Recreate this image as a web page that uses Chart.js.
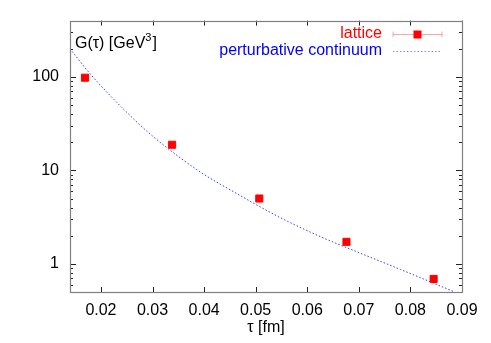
<!DOCTYPE html>
<html>
<head>
<meta charset="utf-8">
<script src="https://cdn.jsdelivr.net/npm/chart.js@4/dist/chart.umd.min.js"></script>
<style>
  html, body { margin: 0; padding: 0; background: #fff; }
  #wrap { width: 491px; height: 343px; }
</style>
</head>
<body>
<div id="wrap"><canvas id="chart"></canvas></div>
<script>
// lattice points (tau in fm, G in GeV^3)
var tauLattice = [0.0169, 0.0338, 0.0507, 0.0676, 0.0845];
var gLattice = [98, 18.8, 5.0, 1.72, 0.69];

// perturbative continuum curve
var tauPert = [0.0140, 0.0179, 0.0239, 0.0298, 0.0392, 0.0457, 0.0544, 0.0625, 0.0703, 0.0781, 0.0886];
var gPert = [200, 108, 48, 23.8, 9.66, 5.91, 3.20, 1.96, 1.30, 0.87, 0.50];

var xTicks = [0.02, 0.03, 0.04, 0.05, 0.06, 0.07, 0.08, 0.09];
var yMajor = [1, 10, 100];
var yMinor = [0.6, 0.7, 0.8, 0.9, 2, 3, 4, 5, 6, 7, 8, 9, 20, 30, 40, 50, 60, 70, 80, 90, 200, 300];

var FONT = 'Liberation Sans, Arial, Helvetica, sans-serif';

function toPoints(xs, ys) {
    return xs.map(function (x, i) { return {x: x, y: ys[i]}; });
}

// frame, inward ticks, y label and legend like the gnuplot original
var decorPlugin = {
    id: 'decor',
    afterDraw: function (chart) {
        var ctx = chart.ctx;
        var a = chart.chartArea;
        var xs = chart.scales.x, ys = chart.scales.y;
        ctx.save();

        // ticks
        ctx.strokeStyle = '#222';
        ctx.lineWidth = 1;
        ctx.beginPath();
        xTicks.forEach(function (v) {
            var px = Math.round(xs.getPixelForValue(v)) + 0.5;
            ctx.moveTo(px, a.bottom); ctx.lineTo(px, a.bottom - 5);
            ctx.moveTo(px, a.top); ctx.lineTo(px, a.top + 5);
        });
        yMajor.forEach(function (v) {
            var py = Math.round(ys.getPixelForValue(v)) + 0.5;
            ctx.moveTo(a.left, py); ctx.lineTo(a.left + 6, py);
            ctx.moveTo(a.right, py); ctx.lineTo(a.right - 6, py);
        });
        yMinor.forEach(function (v) {
            var py = Math.round(ys.getPixelForValue(v)) + 0.5;
            ctx.moveTo(a.left, py); ctx.lineTo(a.left + 3, py);
            ctx.moveTo(a.right, py); ctx.lineTo(a.right - 3, py);
        });
        ctx.stroke();

        // frame
        ctx.strokeStyle = '#808080';
        ctx.lineWidth = 1.2;
        ctx.strokeRect(Math.round(a.left) + 0.5, Math.round(a.top) + 0.5,
            Math.round(a.right - a.left), Math.round(a.bottom - a.top));

        // y label G(tau) [GeV^3]
        ctx.fillStyle = '#000';
        ctx.font = '16px ' + FONT;
        ctx.textBaseline = 'alphabetic';
        ctx.textAlign = 'left';
        var lx = a.left + 5, ly = a.top + 27;
        var s1 = 'G(\u03c4) [GeV';
        ctx.fillText(s1, lx, ly);
        var w1 = ctx.measureText(s1).width;
        ctx.font = '11px ' + FONT;
        ctx.fillText('3', lx + w1, ly - 7);
        var w2 = ctx.measureText('3').width;
        ctx.font = '16px ' + FONT;
        ctx.fillText(']', lx + w1 + w2 + 1, ly);

        // legend
        var ds = chart.data.datasets;
        var textRight = a.right - 80;
        var symL = a.right - 69, symR = a.right - 20;
        var rowY = [a.top + 13, a.top + 30];
        ctx.textAlign = 'right';
        ctx.textBaseline = 'middle';
        ds.forEach(function (d, i) {
            ctx.fillStyle = d.legendText;
            ctx.fillText(d.label, textRight, rowY[i]);
        });
        // lattice symbol: error bar + square
        var y0 = Math.round(rowY[0]) + 0.5;
        ctx.strokeStyle = 'rgba(255,0,0,0.35)';
        ctx.lineWidth = 1;
        ctx.beginPath();
        ctx.moveTo(symL, y0); ctx.lineTo(symR, y0);
        ctx.moveTo(symL, y0 - 3); ctx.lineTo(symL, y0 + 3);
        ctx.moveTo(symR, y0 - 3); ctx.lineTo(symR, y0 + 3);
        ctx.stroke();
        ctx.fillStyle = ds[0].backgroundColor;
        var mid = (symL + symR) / 2;
        ctx.fillRect(mid - 4, y0 - 4, 8, 8);
        // continuum symbol: dotted line
        var y1 = Math.round(rowY[1]) + 0.5;
        ctx.strokeStyle = 'rgba(60,60,255,0.6)';
        ctx.setLineDash(ds[1].borderDash);
        ctx.beginPath();
        ctx.moveTo(symL, y1); ctx.lineTo(symR, y1);
        ctx.stroke();
        ctx.restore();
    }
};

var ctx = document.getElementById('chart').getContext('2d');
new Chart(ctx, {
    type: 'scatter',
    data: {
        datasets: [{
            label: 'lattice',
            data: toPoints(tauLattice, gLattice),
            pointStyle: 'rect',
            pointRadius: 5,
            borderWidth: 1,
            backgroundColor: '#ff0000',
            borderColor: '#ff0000',
            legendText: '#ff0000',
            order: 0
        }, {
            label: 'perturbative continuum',
            data: toPoints(tauPert, gPert),
            showLine: true,
            cubicInterpolationMode: 'monotone',
            pointRadius: 0,
            borderWidth: 1,
            borderDash: [1.5, 2],
            borderColor: '#3b3bff',
            legendText: '#0000ff',
            order: 1
        }]
    },
    options: {
        responsive: true,
        maintainAspectRatio: false,
        animation: false,
        layout: {padding: {top: 20, right: 29, left: 0, bottom: 0}},
        plugins: {
            legend: {display: false},
            tooltip: {enabled: false}
        },
        scales: {
            x: {
                type: 'linear',
                min: 0.014,
                max: 0.09,
                afterBuildTicks: function (scale) {
                    scale.ticks = xTicks.map(function (v) { return {value: v}; });
                },
                afterFit: function (scale) { scale.height = 51; },
                grid: {display: false, drawTicks: false},
                border: {display: false},
                ticks: {
                    color: '#000',
                    padding: 9,
                    maxRotation: 0,
                    font: {family: FONT, size: 16},
                    callback: function (v) { return v.toFixed(2); }
                },
                title: {
                    display: true,
                    text: '\u03c4 [fm]',
                    color: '#000',
                    font: {family: FONT, size: 16},
                    padding: {top: 0, bottom: 6}
                }
            },
            y: {
                type: 'logarithmic',
                min: 0.5,
                max: 400,
                afterBuildTicks: function (scale) {
                    scale.ticks = yMajor.map(function (v) { return {value: v}; });
                },
                afterFit: function (scale) { scale.width = 70; },
                grid: {display: false, drawTicks: false},
                border: {display: false},
                ticks: {
                    color: '#000',
                    padding: 11,
                    font: {family: FONT, size: 16},
                    callback: function (v) { return String(v); }
                }
            }
        }
    },
    plugins: [decorPlugin]
});
</script>
</body>
</html>
